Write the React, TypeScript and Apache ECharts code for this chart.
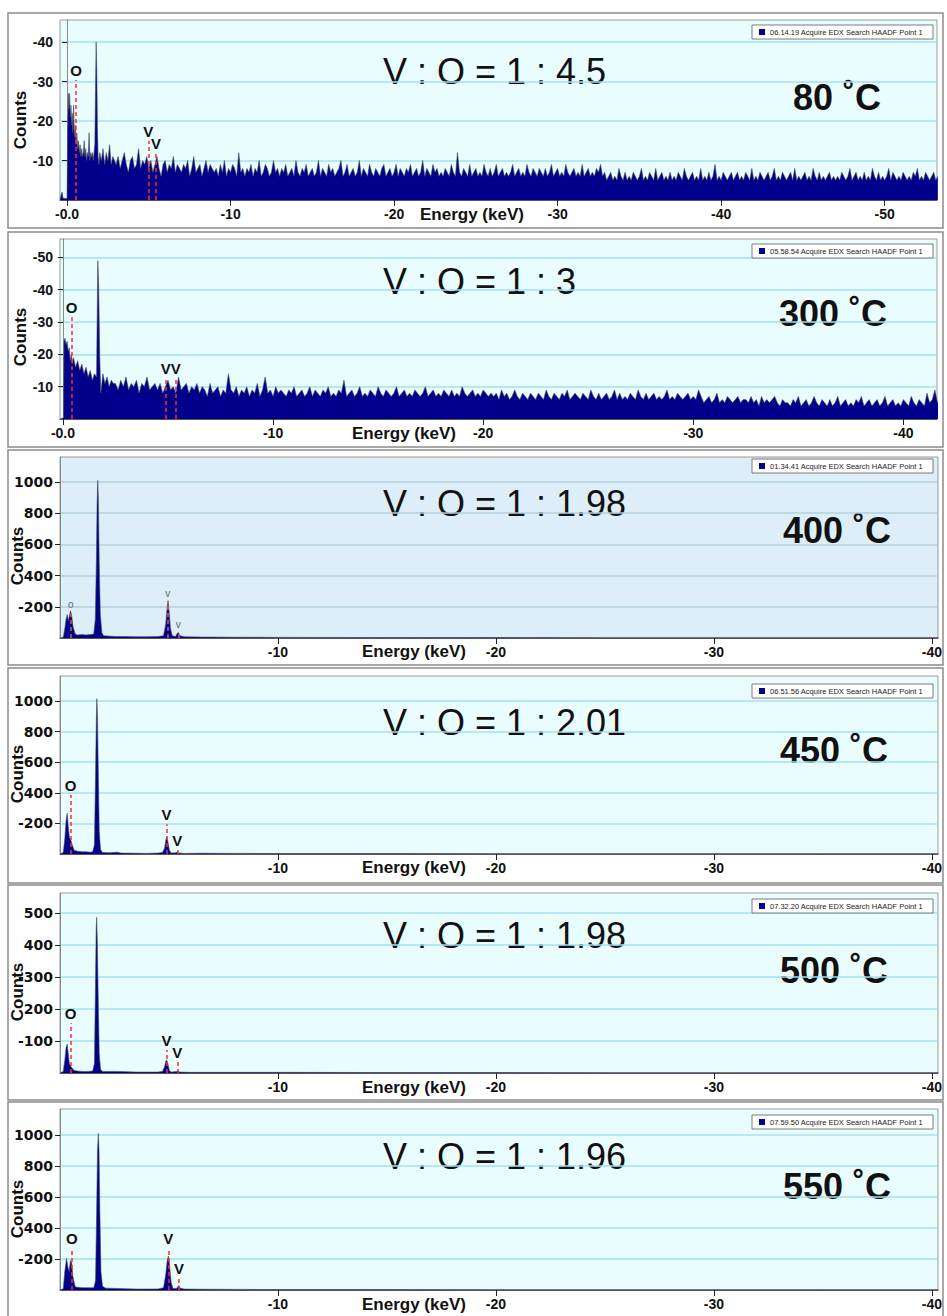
import React, { useEffect, useRef } from "react";
import * as echarts from "echarts";

// ---------- DATA ----------
const seriesNames = [
  "06.14.19 Acquire EDX Search HAADF Point 1",
  "05.58.54 Acquire EDX Search HAADF Point 1",
  "01.34.41 Acquire EDX Search HAADF Point 1",
  "06.51.56 Acquire EDX Search HAADF Point 1",
  "07.32.20 Acquire EDX Search HAADF Point 1",
  "07.59.50 Acquire EDX Search HAADF Point 1",
];
const ratioLabels = [
  "V : O = 1 : 4.5",
  "V : O = 1 : 3",
  "V : O = 1 : 1.98",
  "V : O = 1 : 2.01",
  "V : O = 1 : 1.98",
  "V : O = 1 : 1.96",
];
const tempLabels = ["80 ˚C", "300 ˚C", "400 ˚C", "450 ˚C", "500 ˚C", "550 ˚C"];
const xAxisTitle = "Energy (keV)";
const yAxisTitle = "Counts";

const xTickValues80 = [0, 10, 20, 30, 40, 50];
const xTickLabels80 = ["-0.0", "-10", "-20", "-30", "-40", "-50"];
const xTickValues300 = [0, 10, 20, 30, 40];
const xTickLabels300 = ["-0.0", "-10", "-20", "-30", "-40"];
const xTickValuesHigh = [10, 20, 30, 40];
const xTickLabelsHigh = ["-10", "-20", "-30", "-40"];

const yTickValues80 = [10, 20, 30, 40];
const yTickLabels80 = ["-10", "-20", "-30", "-40"];
const yTickValues300 = [10, 20, 30, 40, 50];
const yTickLabels300 = ["-10", "-20", "-30", "-40", "-50"];
const yTickValues1000 = [200, 400, 600, 800, 1000];
const yTickLabels1000 = ["-200", "400", "-600", "800", "1000"];
const yTickValues500 = [100, 200, 300, 400, 500];
const yTickLabels500 = ["-100", "200", "-300", "400", "500"];

// 80 C spectrum: low-energy channels [keV, counts]
const lowPairs80: [number, number][] = [
  [-0.43, 0], [-0.35, 1.5], [-0.3, 2], [-0.25, 0.5], [-0.05, 0.3], [0.0, 0.5],
  [0.04, 18], [0.08, 27], [0.12, 23], [0.16, 27], [0.2, 21], [0.24, 24],
  [0.28, 19], [0.32, 22], [0.36, 17], [0.4, 24], [0.45, 16], [0.5, 19],
  [0.55, 14], [0.6, 17], [0.65, 13], [0.7, 15], [0.75, 12], [0.8, 14],
  [0.85, 11], [0.9, 13], [0.95, 11], [1.0, 12], [1.05, 15], [1.1, 11],
  [1.15, 13], [1.2, 10], [1.25, 12], [1.3, 11], [1.35, 17], [1.4, 10],
  [1.45, 12], [1.5, 11], [1.55, 12], [1.6, 10], [1.65, 12], [1.7, 14],
  [1.74, 28], [1.78, 40], [1.82, 33], [1.86, 18], [1.9, 11], [1.95, 9],
  [2.0, 12], [2.1, 10], [2.2, 13], [2.3, 9], [2.4, 12], [2.5, 10],
  [2.6, 14], [2.7, 9], [2.8, 11], [2.9, 10],
];
// 80 C spectrum: background channels from 3.0 keV, 0.125 keV per channel
const bgStart80 = 3.0;
const bgStep80 = 0.125;
const bgCounts80 = [
  9, 11, 8, 10, 12, 9, 7, 10, 11, 8, 9, 13, 8, 10, 9, 11,
  8, 10, 7, 9, 11, 8, 6, 9, 10, 7, 9, 8, 11, 7, 9, 8,
  7, 9, 8, 10, 6, 8, 11, 7, 8, 9, 6, 8, 10, 7, 9, 8,
  7, 8, 6, 9, 7, 10, 6, 8, 7, 9, 8, 6, 12, 7, 8, 6,
  8, 7, 9, 6, 8, 7, 10, 6, 7, 9, 8, 6, 7, 10, 7, 8,
  6, 8, 7, 9, 6, 7, 8, 6, 10, 7, 6, 8, 7, 9, 6, 7,
  8, 6, 7, 10, 6, 8, 7, 6, 9, 7, 8, 6, 7, 8, 10, 6,
  7, 9, 6, 7, 8, 6, 7, 10, 6, 8, 7, 6, 9, 7, 6, 8,
  7, 6, 8, 9, 6, 7, 8, 6, 7, 9, 6, 8, 7, 6, 8, 7,
  9, 6, 7, 8, 6, 7, 10, 6, 8, 7, 6, 9, 7, 8, 6, 7,
  6, 8, 7, 6, 9, 7, 6, 12, 7, 6, 8, 7, 6, 9, 6, 7,
  8, 6, 7, 6, 9, 7, 6, 8, 6, 7, 9, 6, 7, 8, 6, 7,
  6, 7, 9, 6, 7, 8, 6, 7, 6, 9, 7, 6, 8, 7, 6, 8,
  7, 6, 8, 6, 7, 9, 6, 7, 8, 6, 7, 6, 9, 7, 6, 7,
  8, 6, 7, 6, 9, 6, 7, 8, 6, 7, 6, 8, 7, 9, 6, 7,
  5, 6, 7, 5, 6, 5, 8, 6, 5, 7, 5, 6, 5, 7, 6, 5,
  6, 8, 5, 6, 5, 7, 6, 5, 8, 5, 6, 7, 5, 6, 5, 7,
  5, 6, 5, 7, 6, 5, 8, 6, 5, 6, 7, 5, 6, 5, 8, 5,
  6, 5, 7, 5, 6, 9, 5, 6, 5, 7, 6, 5, 6, 7, 5, 6,
  7, 5, 6, 5, 7, 6, 5, 8, 5, 6, 5, 7, 6, 5, 6, 7,
  5, 6, 8, 5, 6, 5, 7, 6, 5, 6, 7, 5, 8, 5, 6, 5,
  6, 7, 5, 6, 5, 8, 6, 5, 7, 5, 6, 5, 6, 7, 5, 6,
  5, 6, 5, 7, 6, 5, 6, 8, 5, 6, 7, 5, 6, 5, 7, 5,
  6, 5, 8, 6, 5, 7, 5, 6, 5, 6, 8, 5, 7, 6, 5, 6,
  5, 7, 6, 5, 6, 5, 7, 6, 8, 5, 6, 5, 7, 6, 5, 6,
  7, 5, 6,
];

// 300 C spectrum
const lowPairs300: [number, number][] = [
  [-0.14, 0], [0.0, 0.3], [0.03, 0.5], [0.05, 24], [0.1, 25], [0.15, 23],
  [0.2, 24], [0.25, 21], [0.3, 22], [0.35, 18], [0.4, 20], [0.45, 17],
  [0.5, 19], [0.6, 16], [0.7, 18], [0.8, 15], [0.9, 17], [1.0, 14],
  [1.1, 16], [1.2, 13], [1.3, 15], [1.4, 12], [1.5, 14], [1.6, 13],
  [1.62, 26], [1.66, 49], [1.7, 41], [1.75, 20], [1.8, 8], [1.9, 14],
  [2.0, 11], [2.1, 13], [2.2, 10], [2.3, 12], [2.4, 11],
];
const bgStart300 = 2.5;
const bgStep300 = 0.125;
const bgCounts300 = [
  11, 9, 12, 10, 13, 9, 11, 10, 12, 8, 11, 10, 13, 9, 10, 11,
  9, 11, 8, 10, 12, 9, 10, 8, 13, 9, 10, 11, 8, 10, 9, 11,
  8, 10, 9, 7, 11, 8, 9, 10, 7, 9, 8, 14, 9, 8, 10, 7,
  9, 8, 10, 7, 9, 8, 11, 7, 9, 13, 8, 9, 7, 10, 8, 9,
  8, 7, 9, 8, 10, 7, 8, 9, 7, 8, 10, 7, 9, 8, 7, 9,
  8, 10, 7, 8, 7, 9, 8, 12, 7, 8, 9, 7, 8, 10, 7, 8,
  7, 9, 8, 7, 10, 8, 7, 9, 8, 7, 8, 10, 7, 8, 9, 7,
  8, 7, 9, 8, 7, 8, 10, 7, 8, 9, 7, 8, 7, 9, 8, 7,
  9, 7, 8, 7, 10, 8, 7, 8, 9, 7, 8, 7, 9, 8, 7, 8,
  7, 8, 6, 9, 7, 8, 6, 7, 9, 7, 6, 8, 7, 6, 8, 7,
  6, 8, 7, 6, 9, 7, 6, 8, 7, 6, 8, 7, 9, 6, 7, 8,
  7, 6, 8, 7, 6, 9, 7, 6, 8, 6, 7, 8, 6, 7, 9, 6,
  8, 6, 7, 6, 8, 7, 6, 9, 7, 6, 8, 6, 7, 8, 6, 7,
  6, 7, 9, 6, 7, 6, 8, 7, 6, 7, 8, 6, 7, 6, 9, 7,
  5, 6, 7, 5, 6, 8, 5, 6, 5, 7, 6, 5, 6, 7, 5, 6,
  6, 5, 7, 5, 6, 4, 7, 5, 6, 5, 6, 7, 5, 4, 6, 5,
  5, 4, 6, 5, 7, 4, 5, 6, 4, 5, 7, 5, 4, 6, 5, 4,
  6, 4, 5, 7, 4, 5, 6, 4, 5, 4, 6, 5, 7, 4, 5, 6,
  4, 5, 6, 4, 5, 7, 4, 5, 6, 4, 5, 4, 6, 5, 4, 7,
  5, 4, 6, 5, 4, 8, 5, 6, 9, 5, 6,
];

// 400 C spectrum [keV, counts]
const pairs400: [number, number][] = [
  [0, 0], [0.15, 5], [0.22, 60], [0.28, 120], [0.33, 150], [0.38, 110],
  [0.43, 140], [0.48, 175], [0.53, 150], [0.6, 70], [0.7, 25], [0.8, 20],
  [1.0, 22], [1.2, 20], [1.4, 22], [1.55, 25], [1.62, 120], [1.67, 500],
  [1.7, 850], [1.73, 1010], [1.76, 900], [1.8, 480], [1.85, 150], [1.92, 35],
  [2.0, 15], [2.5, 10], [3.0, 9], [3.5, 8], [4.0, 8], [4.5, 9], [4.75, 15],
  [4.85, 90], [4.92, 200], [4.96, 235], [5.0, 180], [5.07, 60], [5.15, 15],
  [5.3, 10], [5.38, 30], [5.43, 35], [5.5, 15], [5.7, 8], [6.5, 6], [8, 5],
  [10, 4], [15, 3], [20, 3], [25, 2], [30, 2], [35, 2], [40.3, 2],
];
// 450 C spectrum
const pairs450: [number, number][] = [
  [0, 0], [0.15, 10], [0.22, 100], [0.28, 220], [0.33, 266], [0.38, 180],
  [0.43, 110], [0.5, 90], [0.56, 60], [0.65, 25], [0.8, 18], [1.0, 15],
  [1.2, 14], [1.4, 12], [1.5, 15], [1.58, 60], [1.63, 520], [1.67, 900],
  [1.69, 1015], [1.72, 900], [1.76, 520], [1.8, 150], [1.86, 30], [1.95, 10],
  [2.3, 8], [2.6, 12], [2.8, 6], [3.5, 5], [4.0, 4], [4.5, 6], [4.7, 10],
  [4.8, 40], [4.86, 95], [4.9, 113], [4.95, 80], [5.02, 25], [5.1, 6],
  [5.3, 8], [5.38, 12], [5.45, 6], [5.7, 4], [6.5, 5], [8, 4], [10, 3],
  [15, 3], [20, 2], [25, 2], [30, 2], [35, 2], [40.3, 2],
];
// 500 C spectrum
const pairs500: [number, number][] = [
  [0, 0], [0.15, 5], [0.22, 40], [0.28, 80], [0.33, 90], [0.38, 60],
  [0.43, 30], [0.5, 20], [0.56, 15], [0.65, 8], [0.8, 6], [1.0, 5],
  [1.3, 5], [1.5, 6], [1.58, 30], [1.62, 240], [1.66, 450], [1.68, 486],
  [1.71, 420], [1.75, 250], [1.8, 60], [1.86, 12], [1.95, 5], [2.6, 5],
  [3.5, 3], [4.0, 3], [4.5, 3], [4.7, 5], [4.8, 20], [4.86, 38], [4.9, 40],
  [4.95, 28], [5.02, 8], [5.1, 3], [5.35, 5], [5.4, 6], [5.5, 3], [6, 2],
  [8, 2], [10, 2], [15, 1.5], [20, 1.5], [25, 1], [30, 1], [35, 1], [40.3, 1],
];
// 550 C spectrum
const pairs550: [number, number][] = [
  [0, 0], [0.15, 8], [0.22, 120], [0.3, 204], [0.36, 150], [0.42, 120],
  [0.48, 190], [0.53, 180], [0.6, 80], [0.7, 20], [0.8, 18], [1.0, 15],
  [1.2, 15], [1.4, 14], [1.55, 15], [1.63, 60], [1.68, 500], [1.72, 900],
  [1.76, 1011], [1.79, 900], [1.83, 500], [1.88, 120], [1.95, 25], [2.1, 12],
  [2.6, 10], [3.0, 8], [3.5, 6], [4.0, 6], [4.5, 7], [4.75, 15], [4.85, 100],
  [4.92, 190], [4.97, 219], [5.02, 170], [5.1, 50], [5.18, 10], [5.35, 10],
  [5.42, 25], [5.46, 28], [5.52, 12], [5.7, 6], [6.5, 5], [8, 4], [10, 3],
  [15, 3], [20, 2], [25, 2], [30, 2], [35, 2], [40.3, 2],
];

// element markers: label, energy (keV), top of dashed line (counts)
const markerLabels80 = ["O", "V", "V"];
const markerEnergy80 = [0.55, 4.97, 5.44];
const markerTop80 = [30.4, 15, 12];
const markerLabels300 = ["O", "V", "V"];
const markerEnergy300 = [0.41, 4.89, 5.37];
const markerTop300 = [31.5, 12.6, 12.6];
const markerLabels400 = ["o", "v", "v"];
const markerEnergy400 = [0.5, 4.94, 5.43];
const markerTop400 = [170, 240, 40];
const markerLabels450 = ["O", "V", "V"];
const markerEnergy450 = [0.49, 4.89, 5.38];
const markerTop450 = [386, 194, 26];
const markerLabels500 = ["O", "V", "V"];
const markerEnergy500 = [0.49, 4.89, 5.38];
const markerTop500 = [155, 72, 35];
const markerLabels550 = ["O", "V", "V"];
const markerEnergy550 = [0.54, 4.97, 5.46];
const markerTop550 = [269, 269, 80];

// ---------- BUILD ----------
function withBackground(low: [number, number][], start: number, step: number, counts: number[]) {
  const out: [number, number][] = low.slice();
  counts.forEach((c, i) => out.push([+(start + i * step).toFixed(3), c]));
  return out;
}

const spectra = [
  withBackground(lowPairs80, bgStart80, bgStep80, bgCounts80),
  withBackground(lowPairs300, bgStart300, bgStep300, bgCounts300),
  pairs400,
  pairs450,
  pairs500,
  pairs550,
];
const markers = [
  [markerLabels80, markerEnergy80, markerTop80],
  [markerLabels300, markerEnergy300, markerTop300],
  [markerLabels400, markerEnergy400, markerTop400],
  [markerLabels450, markerEnergy450, markerTop450],
  [markerLabels500, markerEnergy500, markerTop500],
  [markerLabels550, markerEnergy550, markerTop550],
] as [string[], number[], number[]][];

const ARIAL = "'Liberation Sans', Arial, sans-serif";
const DEJAVU = "'DejaVu Sans', Verdana, sans-serif";

const layout = [
  { frame: [8, 13, 935, 215], grid: [60, 20, 877, 180], xMin: -0.43, xMax: 53.2, yMax: 45.6, yInt: 10,
    xt: [xTickValues80, xTickLabels80], yt: [yTickValues80, yTickLabels80], yFont: ARIAL,
    ratio: [383, 71], temp: [793, 97], legendTop: 25, counts: [20, 120], energy: [420, 214],
    bg: "#eafdfe", split: "#a7dff0", small: false },
  { frame: [8, 232, 935, 215], grid: [60, 239, 877, 180], xMin: -0.14, xMax: 41.6, yMax: 55.7, yInt: 10,
    xt: [xTickValues300, xTickLabels300], yt: [yTickValues300, yTickLabels300], yFont: ARIAL,
    ratio: [383, 281], temp: [779, 313], legendTop: 244, counts: [20, 337], energy: [352, 433],
    bg: "#eafdfe", split: "#a7dff0", small: false },
  { frame: [8, 450, 935, 215], grid: [60, 457, 878, 181], xMin: 0, xMax: 40.28, yMax: 1160, yInt: 200,
    xt: [xTickValuesHigh, xTickLabelsHigh], yt: [yTickValues1000, yTickLabels1000], yFont: DEJAVU,
    ratio: [383, 503], temp: [783, 530], legendTop: 459, counts: [17, 556], energy: [362, 651],
    bg: "#ddeef8", split: "#b2cfdd", small: true },
  { frame: [8, 668, 935, 215], grid: [60, 676, 878, 178], xMin: 0, xMax: 40.28, yMax: 1163, yInt: 200,
    xt: [xTickValuesHigh, xTickLabelsHigh], yt: [yTickValues1000, yTickLabels1000], yFont: DEJAVU,
    ratio: [383, 722], temp: [780, 750], legendTop: 684, counts: [17, 774], energy: [362, 867],
    bg: "#eafdfe", split: "#a7dff0", small: false },
  { frame: [8, 885, 935, 215], grid: [60, 893, 878, 180], xMin: 0, xMax: 40.28, yMax: 562, yInt: 100,
    xt: [xTickValuesHigh, xTickLabelsHigh], yt: [yTickValues500, yTickLabels500], yFont: DEJAVU,
    ratio: [383, 935], temp: [780, 970], legendTop: 899, counts: [17, 992], energy: [362, 1087],
    bg: "#eafdfe", split: "#a7dff0", small: false },
  { frame: [8, 1102, 935, 220], grid: [60, 1109, 878, 181], xMin: 0, xMax: 40.28, yMax: 1168, yInt: 200,
    xt: [xTickValuesHigh, xTickLabelsHigh], yt: [yTickValues1000, yTickLabels1000], yFont: DEJAVU,
    ratio: [383, 1156], temp: [783, 1186], legendTop: 1115, counts: [17, 1209], energy: [362, 1304],
    bg: "#eafdfe", split: "#a7dff0", small: false },
];

function buildOption() {
  const grid = layout.map((p) => ({
    left: p.grid[0], top: p.grid[1], width: p.grid[2], height: p.grid[3],
    show: true, backgroundColor: p.bg, borderColor: "#9a9a9a", borderWidth: 1,
  }));
  const xAxis = layout.map((p, i) => ({
    type: "value", gridIndex: i, min: p.xMin, max: p.xMax,
    axisLine: { show: true, onZero: false, lineStyle: { color: "#555", width: 1 } },
    axisTick: { show: true, customValues: p.xt[0], length: 6, lineStyle: { color: "#222" } },
    axisLabel: {
      customValues: p.xt[0], margin: 7, fontSize: 14, fontWeight: "bold", color: "#111", fontFamily: ARIAL,
      formatter: (v: number) => { const k = (p.xt[0] as number[]).indexOf(v); return k >= 0 ? (p.xt[1] as string[])[k] : ""; },
    },
    splitLine: { show: false },
  }));
  const yAxis = layout.map((p, i) => ({
    type: "value", gridIndex: i, min: 0, max: p.yMax, interval: p.yInt,
    axisLine: { show: true, lineStyle: { color: "#8a8a8a", width: 1 } },
    axisTick: { show: true, customValues: p.yt[0], length: 5, lineStyle: { color: "#222" } },
    axisLabel: {
      margin: 7, fontSize: 14, fontWeight: "bold", color: "#111", fontFamily: p.yFont,
      formatter: (v: number) => { const k = (p.yt[0] as number[]).indexOf(Math.round(v)); return k >= 0 ? (p.yt[1] as string[])[k] : ""; },
    },
    splitLine: { show: true, lineStyle: { color: p.split, width: 1.5 } },
  }));
  const legend = layout.map((p, i) => ({
    data: [seriesNames[i]], top: p.legendTop, right: 14, icon: "rect", itemWidth: 6, itemHeight: 6,
    itemGap: 4, padding: [3, 10, 3, 7], backgroundColor: "#fff", borderColor: "#7a7a7a", borderWidth: 1,
    textStyle: { fontSize: 7.5, color: "#222", fontFamily: ARIAL }, itemStyle: { color: "#00008b" },
    selectedMode: false,
  }));
  const series = layout.map((p, i) => {
    const [labs, ens, tops] = markers[i];
    return {
      type: "line", name: seriesNames[i], xAxisIndex: i, yAxisIndex: i, data: spectra[i],
      showSymbol: false, symbol: "none", clip: true,
      lineStyle: { color: "#4a4a55", width: 0.6 },
      itemStyle: { color: "#00008b" },
      areaStyle: { color: "#00008b", opacity: 1, origin: "start" },
      markLine: {
        silent: true, symbol: ["none", "none"], animation: false,
        lineStyle: { color: p.small ? "#e05555" : "#ff2b2b", type: [4, 3], width: 1.5 },
        label: {
          show: true, position: "end", formatter: "{b}", distance: 2,
          color: p.small ? "#666" : "#111", fontSize: p.small ? 10 : 15,
          fontWeight: p.small ? "normal" : "bold", fontFamily: ARIAL,
        },
        data: labs.map((l, k) => [
          { name: l, coord: [ens[k], 0] },
          { name: l, coord: [ens[k], tops[k]] },
        ]),
      },
    };
  });
  const graphic: any[] = [];
  layout.forEach((p, i) => {
    graphic.push({
      type: "rect", shape: { x: p.frame[0], y: p.frame[1], width: p.frame[2], height: p.frame[3] },
      style: { fill: "none", stroke: "#8c8c8c", lineWidth: 1.5 }, silent: true,
    });
    graphic.push({
      type: "text", x: p.ratio[0], y: p.ratio[1], silent: true,
      style: { text: ratioLabels[i], fontSize: 36, fontFamily: ARIAL, fill: "#111", align: "left", verticalAlign: "middle" },
    });
    graphic.push({
      type: "text", x: p.temp[0], y: p.temp[1], silent: true,
      style: { text: tempLabels[i], fontSize: 36, fontWeight: "bold", fontFamily: ARIAL, fill: "#111", align: "left", verticalAlign: "middle" },
    });
    graphic.push({
      type: "text", x: p.counts[0], y: p.counts[1], rotation: Math.PI / 2, silent: true,
      style: { text: yAxisTitle, fontSize: 17, fontWeight: "bold", fontFamily: ARIAL, fill: "#111", align: "center", verticalAlign: "middle" },
    });
    graphic.push({
      type: "text", x: p.energy[0], y: p.energy[1], silent: true,
      style: { text: xAxisTitle, fontSize: 17, fontWeight: "bold", fontFamily: ARIAL, fill: "#111", align: "left", verticalAlign: "middle" },
    });
  });
  return { animation: false, backgroundColor: "#ffffff", grid, xAxis, yAxis, legend, series, graphic };
}

export default function App() {
  const ref = useRef<HTMLDivElement>(null);
  useEffect(() => {
    if (!ref.current) return;
    const chart = echarts.init(ref.current, undefined, { renderer: "svg" });
    chart.setOption(buildOption() as any);
    return () => chart.dispose();
  }, []);
  return (
    <div
      ref={ref}
      style={{ position: "absolute", left: 0, top: 0, width: 947, height: 1316, background: "#fff" }}
    />
  );
}
